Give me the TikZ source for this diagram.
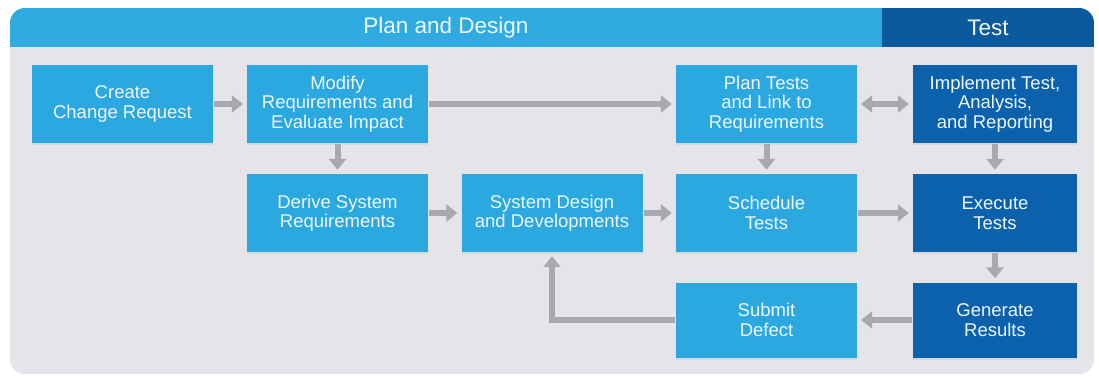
\documentclass[tikz,border=0pt]{standalone}
\usepackage{fontspec}
\setmainfont{Liberation Sans}
\usetikzlibrary{arrows.meta,shadows}

\definecolor{fonpanel}{HTML}{E5E5E9}
\definecolor{svetlo}{HTML}{2BA8E0}
\definecolor{temno}{HTML}{0B61AC}
\definecolor{shapkaS}{HTML}{2FABE1}
\definecolor{shapkaT}{HTML}{0C5A9E}
\definecolor{strelka}{HTML}{A8A8B0}
\definecolor{tekst}{HTML}{EEF7FC}

\begin{document}
\begin{tikzpicture}[x=1pt,y=-1pt,
 blok/.style={rectangle,fill=svetlo,text=tekst,minimum width=181pt,minimum height=78pt,inner sep=0pt,align=center,font=\fontsize{18.5}{19.5}\selectfont,drop shadow={shadow xshift=0pt,shadow yshift=-2pt,opacity=0.12}},
 testblok/.style={blok,fill=temno,minimum width=164pt},
 zag/.style={text=tekst,font=\fontsize{22.5}{24}\selectfont},
 strel/.style={draw=strelka,line width=6pt,-{Triangle[width=17pt,length=11pt]},shorten >=4pt,shorten <=1pt}]
\useasboundingbox (0,0) rectangle (1099,377);
%Фон и шапка
\begin{scope}
\clip[rounded corners=15pt] (10,8) rectangle (1094,374);
\fill[fonpanel] (10,8) rectangle (1094,374);
\fill[shapkaS] (10,8) rectangle (882,47);
\fill[shapkaT] (882,8) rectangle (1094,47);
\end{scope}
\node[zag] (zplan) at (446,28) {Plan and Design};
\node[zag] (ztest) at (988,28) {Test};
%Блоки
\node[blok] (zapros) at (122.5,104) {Create\\Change Request};
\node[blok] (izmen) at (337.5,104) {Modify\\Requirements and\\Evaluate Impact};
\node[blok] (plant) at (766.5,104) {Plan Tests\\and Link to\\Requirements};
\node[testblok] (realiz) at (995,104) {Implement Test,\\Analysis,\\and Reporting};
\node[blok] (vyvod) at (337.5,213) {Derive System\\Requirements};
\node[blok] (razrab) at (552,213) {System Design\\and Developments};
\node[blok] (raspis) at (766.5,213) {Schedule\\Tests};
\node[testblok] (vypoln) at (995,213) {Execute\\Tests};
\node[blok,minimum height=75pt] (defekt) at (766.5,320) {Submit\\Defect};
\node[testblok,minimum height=75pt] (rezult) at (995,320) {Generate\\Results};
%Стрелки
\draw[strel] (zapros) -- (izmen);
\draw[strel] (izmen) -- (plant);
\draw[strel,{Triangle[width=17pt,length=11pt]}-{Triangle[width=17pt,length=11pt]},shorten <=4pt] (plant) -- (realiz);
\draw[strel] (izmen) -- (vyvod);
\draw[strel] (plant) -- (raspis);
\draw[strel] (realiz) -- (vypoln);
\draw[strel] (vyvod) -- (razrab);
\draw[strel] (razrab) -- (raspis);
\draw[strel] (raspis) -- (vypoln);
\draw[strel] (vypoln) -- (rezult);
\draw[strel] (rezult) -- (defekt);
\draw[strel] (defekt.west) -| (razrab.south);
\end{tikzpicture}
\end{document}
